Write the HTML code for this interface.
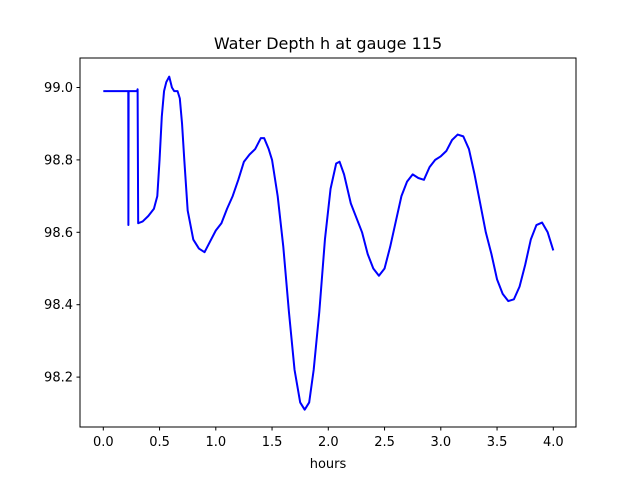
<!DOCTYPE html>
<html><head><meta charset="utf-8"><style>
body{margin:0;background:#fff}
svg{display:block;font-family:"DejaVu Sans","Liberation Sans",sans-serif}
</style></head><body>
<svg id="c" width="640" height="480">
<rect width="640" height="480" fill="#fff"/>
<text x="328" y="49" font-size="16" text-anchor="middle">Water Depth h at gauge 115</text>
<text x="328" y="468" font-size="13" text-anchor="middle">hours</text>
<g id="ticks"></g>
<path id="line" fill="none" stroke="#0000ff" stroke-width="2" stroke-linejoin="round"/>
<rect x="80" y="58" width="496" height="369" fill="none" stroke="#000" stroke-width="1"/>
</svg>
<script>
const times=[0,0.222,0.223,0.225,0.23,0.3,0.305,0.31,0.35,0.4,0.45,0.48,0.5,0.52,0.54,0.56,0.586,0.61,0.63,0.66,0.68,0.7,0.72,0.75,0.8,0.85,0.9,0.95,1.0,1.05,1.1,1.15,1.2,1.25,1.3,1.35,1.4,1.43,1.47,1.5,1.55,1.6,1.65,1.7,1.75,1.79,1.83,1.87,1.92,1.97,2.02,2.07,2.1,2.14,2.2,2.3,2.35,2.4,2.45,2.5,2.55,2.6,2.65,2.7,2.75,2.8,2.85,2.9,2.95,3.0,3.05,3.1,3.15,3.2,3.25,3.3,3.35,3.4,3.45,3.5,3.55,3.6,3.65,3.7,3.75,3.8,3.85,3.9,3.95,4.0];
const depths=[98.99,98.99,98.62,98.99,98.99,98.99,98.995,98.625,98.63,98.645,98.665,98.70,98.8,98.92,98.99,99.015,99.03,99.0,98.99,98.99,98.97,98.9,98.8,98.66,98.58,98.555,98.545,98.575,98.605,98.625,98.665,98.7,98.745,98.795,98.815,98.83,98.86,98.86,98.83,98.8,98.7,98.56,98.38,98.22,98.13,98.11,98.13,98.22,98.38,98.58,98.72,98.79,98.795,98.76,98.68,98.6,98.54,98.5,98.48,98.5,98.56,98.63,98.7,98.74,98.76,98.75,98.745,98.78,98.8,98.81,98.825,98.855,98.87,98.865,98.83,98.76,98.68,98.6,98.54,98.47,98.43,98.41,98.415,98.45,98.51,98.58,98.62,98.627,98.6,98.55];
const xTicks=[0,0.5,1,1.5,2,2.5,3,3.5,4];
const xTickLabels=["0.0","0.5","1.0","1.5","2.0","2.5","3.0","3.5","4.0"];
const yTicks=[98.2,98.4,98.6,98.8,99.0];
const yTickLabels=["98.2","98.4","98.6","98.8","99.0"];
const X=t=>103.3+t*112.5;
const Y=v=>87.5+(99.0-v)*362;
const NS="http://www.w3.org/2000/svg";
const g=document.getElementById('ticks');
function mk(tag,attrs){const e=document.createElementNS(NS,tag);for(const k in attrs)e.setAttribute(k,attrs[k]);return e;}
xTicks.forEach((t,i)=>{
  const l=mk('line',{x1:X(t),x2:X(t),y1:427,y2:430.5,stroke:'#000'});
  
  
  g.appendChild(l);
  const tx=mk('text',{x:X(t),y:446,'font-size':13,'text-anchor':'middle'});
  
  
  tx.textContent=xTickLabels[i];g.appendChild(tx);
});
yTicks.forEach((v,i)=>{
  const l=mk('line',{x1:76.5,x2:80,y1:Y(v),y2:Y(v),stroke:'#000'});
  
  
  g.appendChild(l);
  const tx=mk('text',{x:73,y:Y(v)+4.5,'font-size':13,'text-anchor':'end'});
  
  
  tx.textContent=yTickLabels[i];g.appendChild(tx);
});
document.getElementById('line').setAttribute('d',times.map((t,i)=>(i?'L':'M')+X(t).toFixed(2)+' '+Y(depths[i]).toFixed(2)).join(' '));
</script>
</body></html>
